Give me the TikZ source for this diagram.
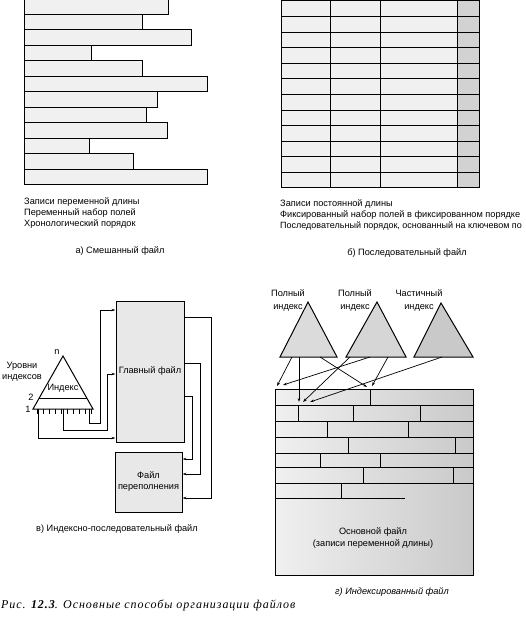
\documentclass[tikz,border=0pt]{standalone}
\usepackage{fontspec}
\setmainfont{Liberation Sans}
\newfontfamily\capfont[LetterSpace=8]{Liberation Serif}
\usetikzlibrary{arrows.meta,calc}

\begin{document}
\begin{tikzpicture}[x=1pt,y=-1pt,
  every node/.style={font=\fontsize{9.2}{11}\selectfont,inner sep=1pt},
  rec/.style={draw,line width=1pt,fill=gray!12},
  box/.style={draw,line width=1pt,fill=gray!18,inner sep=0pt},
  arr/.style={-{Stealth[length=4pt,width=2.6pt]},line width=0.7pt},
  lbl/.style={anchor=west,inner sep=0pt}]
\path[use as bounding box] (0,0) rectangle (526,620);
\clip (0,0) rectangle (526,620);

% a) mixed file
\foreach \r [count=\i from 0] in {168,142,191,91,142,207,157,146,167,89,133,207}
  \draw[rec] (24,-1+15.5*\i) rectangle (\r,14.5+15.5*\i);
\node[lbl] (a1) at (24,202) {Записи переменной длины};
\node[lbl] (a2) at (24,213) {Переменный набор полей};
\node[lbl] (a3) at (24,224) {Хронологический порядок};
\node (acap) at (120,251) {а) Смешанный файл};

% b) sequential file
\fill[gray!12] (281,1) rectangle (457,188);
\fill[gray!35] (457,1) rectangle (479,188);
\foreach \i in {1,...,11}
  \draw[line width=1pt] (281,1+15.58*\i) -- (479,1+15.58*\i);
\foreach \x in {330,380,457}
  \draw[line width=1pt] (\x,1) -- (\x,188);
\draw[line width=1pt] (281,1) rectangle (479,188);
\node[lbl] (b1) at (280,204) {Записи постоянной длины};
\node[lbl] (b2) at (280,215) {Фиксированный набор полей в фиксированном порядке};
\node[lbl,font=\fontsize{9}{11}\selectfont] (b3) at (280,226) {Последовательный порядок, основанный на ключевом по};
\node (bcap) at (407,253) {б) Последовательный файл};

% c) indexed sequential file
\node[box,minimum width=68,minimum height=141] (main) at (150,371.5) {Главный файл};
\node[box,minimum width=67,minimum height=60,align=center] (ovf) at (148.5,482) {Файл\\переполнения};
\coordinate (ia) at (63,356);
\coordinate (il) at (33,409);
\coordinate (ir) at (93,409);
\draw[line width=1pt,fill=white] (ia) -- (ir) -- (il) -- cycle;
\draw[line width=1pt] ($(il)!0.2!(ia)$) -- ($(ir)!0.2!(ia)$);
\foreach \x in {37,43,...,91}
  \draw[line width=0.6pt] (\x,409) -- (\x,414);
\node (idx) at (63,388) {Индекс};
\node (ln) at (57,352) {n};
\node (l2) at (31,397) {2};
\node (l1) at (28,409) {1};
\node[align=center] (lvl) at (22,372) {Уровни\\индексов};
\coordinate (s1) at (89,409);
\coordinate (s2) at (63,409);
\coordinate (s3) at (38,409);
\draw[arr] (s1) -- (89,423) -- (100,423) |- (main.west |- 0,310);
\draw[arr] (s2) -- (63,430) -- (107,430) |- (main.west |- 0,374);
\draw[arr] (s3) |- (main.west |- 0,438);
\draw[arr] (main.east |- 0,317) -| (211,498) -- (ovf.east |- 0,498);
\draw[arr] (main.east |- 0,363) -| (200,474) -- (ovf.east |- 0,474);
\draw[arr] (main.east |- 0,396) -| (192,459) -- (ovf.east |- 0,459);
\node (ccap) at (117,529) {в) Индексно-последовательный файл};

% d) indexed file
\shade[left color=gray!12,right color=gray!42] (275,389) rectangle (473,575);
\foreach \y in {405,421,437,453,467,483}
  \draw[line width=1pt] (275,\y) -- (473,\y);
\draw[line width=1pt] (275,498) -- (405,498);
\foreach \x/\ya/\yb in {370/389/405, 298/405/421, 353/405/421, 420/405/421,
    327/421/437, 408/421/437, 348/437/453, 455/437/453, 320/453/467,
    380/453/467, 363/467/483, 453/467/483, 341/483/498}
  \draw[line width=1pt] (\x,\ya) -- (\x,\yb);
\draw[line width=1pt] (275,389) rectangle (473,575);
\node[align=center,font=\fontsize{9.2}{12}\selectfont] (basef) at (373,538) {Основной файл\\(записи переменной длины)};

\coordinate (t1) at (308,302);
\coordinate (t2) at (377,302);
\coordinate (t3) at (441,303);
\draw[line width=1pt,fill=gray!28] (t1) -- (337,357) -- (280,357) -- cycle;
\draw[line width=1pt,fill=gray!32] (t2) -- (406,357) -- (346,357) -- cycle;
\draw[line width=1pt,fill=gray!42] (t3) -- (473,357) -- (414,357) -- cycle;
\node[align=center,font=\fontsize{9.2}{13}\selectfont] (n1) at (288,301) {Полный\\индекс};
\node[align=center,font=\fontsize{9.2}{13}\selectfont] (n2) at (355,301) {Полный\\индекс};
\node[align=center,font=\fontsize{9.2}{13}\selectfont] (n3) at (419,301) {Частичный\\индекс};

\coordinate (p1) at (292,357);
\coordinate (p2) at (299,357);
\coordinate (p3) at (320,357);
\coordinate (q1) at (370,357);
\coordinate (q2) at (388,357);
\coordinate (q3) at (350,357);
\coordinate (r1) at (442,357);
\coordinate (e1) at (277,386);
\coordinate (e2) at (299,402);
\coordinate (e3) at (367,387);
\coordinate (e4) at (283,385);
\coordinate (e5) at (372,386);
\coordinate (e6) at (303,402);
\coordinate (e7) at (310,402);
\draw[arr] (p1) -- (e1);
\draw[arr] (p2) -- (e2);
\draw[arr] (p3) -- (e3);
\draw[arr] (q1) -- (e4);
\draw[arr] (q2) -- (e5);
\draw[arr] (q3) -- (e6);
\draw[arr] (r1) -- (e7);
\node[font=\fontsize{9.2}{11}\selectfont\itshape] (dcap) at (392,592) {г) Индексированный файл};

\node[anchor=west,inner sep=0pt,font=\capfont\itshape\fontsize{12}{14}\selectfont] (fig) at (1,605) {Рис. {\bfseries 12.3}. Основные способы организации файлов};
\end{tikzpicture}
\end{document}
